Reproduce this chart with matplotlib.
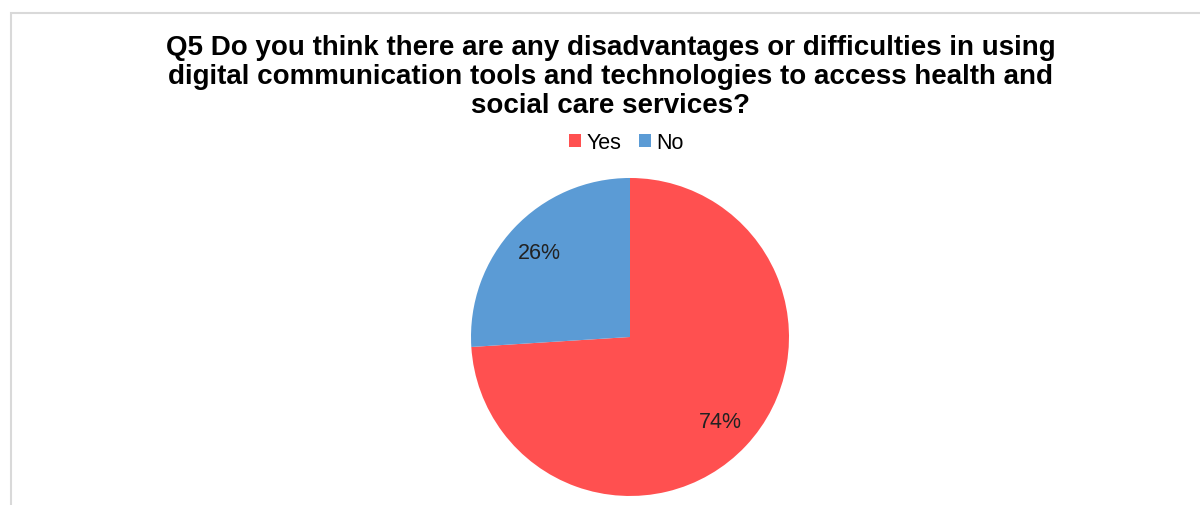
import matplotlib.pyplot as plt
from matplotlib.patches import Rectangle

# Données du graphique
labels = ['Yes', 'No']
values = [74, 26]
colors = ['#FF5050', '#5B9BD5']
title = ('Q5 Do you think there are any disadvantages or difficulties in using\n'
         'digital communication tools and technologies to access health and\n'
         'social care services?')

plt.rcParams['font.family'] = ['Liberation Sans', 'DejaVu Sans']

fig = plt.figure(figsize=(12, 5.06), dpi=100)

# cadre gris clair autour du graphique
fig.patches.append(Rectangle((11/1200, -0.01), 1.1, 1 - 14/506 + 0.01, transform=fig.transFigure,
                             fill=False, edgecolor='#D9D9D9', lw=1.5))

ax = fig.add_axes([0.3925, 0.0178, 0.265, 0.6285])
wedges, texts, autotexts = ax.pie(values, colors=colors, startangle=90, counterclock=False,
                                  autopct='%1.0f%%', pctdistance=0.78,
                                  textprops=dict(fontsize=15.5, color='#222222'))
ax.set_xlim(-1, 1)
ax.set_ylim(-1, 1)
ax.set_aspect('equal')

fig.text(0.509, 0.93, title, ha='center', va='top', fontsize=20, fontweight='bold',
         linespacing=1.14)

fig.legend(wedges, labels, loc='center', bbox_to_anchor=(0.522, 0.716), ncol=2, frameon=False,
           fontsize=15.5, handlelength=0.55, handleheight=0.55, handletextpad=0.25, columnspacing=0.8)

fig.savefig('out.png', dpi=100)
